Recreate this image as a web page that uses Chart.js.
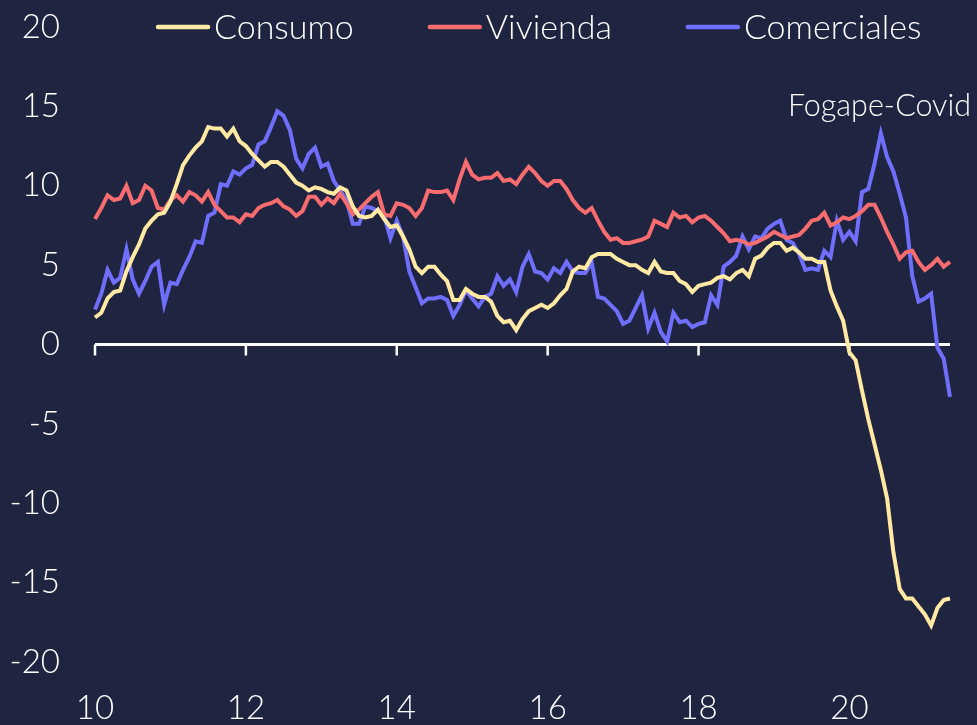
<!DOCTYPE html>
<html>
<head>
<meta charset="utf-8">
<script src="https://cdn.jsdelivr.net/npm/chart.js@4.4.1/dist/chart.umd.min.js"></script>
<style>
  html, body { margin: 0; padding: 0; background: #1f2440; }
  #wrap { width: 977px; height: 725px; }
</style>
</head>
<body>
<div id="wrap"><canvas id="chart" width="977" height="725"></canvas></div>
<script>
// monthly, Jan 2010 .. May 2021
const startYear = 2010;
const nMonths = 137;
const months = [];
for (let i = 0; i < nMonths; i++) {
  const y = startYear + Math.floor(i / 12);
  const m = (i % 12) + 1;
  months.push(y + '-' + String(m).padStart(2, '0'));
}
const tickYears = ['2010', '2012', '2014', '2016', '2018', '2020'];

const seriesNames = ['Consumo', 'Vivienda', 'Comerciales'];
const seriesColors = ['#ffe9a3', '#f76c6f', '#6f6ffb'];

const consumo = [
  1.7, 2.0, 2.9, 3.3, 3.4, 4.6, 5.5, 6.3, 7.3, 7.8, 8.2, 8.3,
  9.0, 10.1, 11.3, 11.9, 12.4, 12.8, 13.7, 13.6, 13.6, 13.1, 13.6, 12.8,
  12.5, 12.0, 11.6, 11.2, 11.5, 11.5, 11.2, 10.7, 10.2, 10.0, 9.7, 9.9,
  9.8, 9.6, 9.5, 9.9, 9.7, 8.7, 8.1, 8.0, 8.1, 8.5, 7.9, 7.4,
  7.5, 6.8, 6.0, 4.9, 4.5, 4.9, 4.9, 4.4, 4.0, 2.8, 2.8, 3.5,
  3.2, 3.0, 3.0, 2.7, 1.8, 1.4, 1.5, 0.9, 1.6, 2.1, 2.3, 2.5,
  2.3, 2.6, 3.1, 3.5, 4.6, 4.9, 4.8, 5.5, 5.7, 5.7, 5.7, 5.4,
  5.2, 5.0, 5.0, 4.7, 4.5, 5.2, 4.6, 4.5, 4.5, 4.0, 3.8, 3.3,
  3.7, 3.8, 3.9, 4.2, 4.3, 4.1, 4.5, 4.7, 4.3, 5.4, 5.6, 6.1,
  6.4, 6.4, 5.9, 6.1, 5.8, 5.4, 5.4, 5.2, 5.2, 3.4, 2.4, 1.5,
  -0.5, -1.0, -2.9, -4.7, -6.3, -7.9, -9.7, -13.1, -15.4, -16.0, -16.0, -16.5,
  -17.0, -17.7, -16.6, -16.1, -16.0
];
const vivienda = [
  7.9, 8.6, 9.4, 9.1, 9.2, 10.0, 8.9, 9.1, 10.0, 9.7, 8.6, 8.5,
  9.1, 9.4, 9.0, 9.6, 9.4, 9.0, 9.6, 8.8, 8.4, 8.0, 8.0, 7.7,
  8.2, 8.1, 8.6, 8.8, 8.9, 9.1, 8.7, 8.5, 8.1, 8.4, 9.3, 9.3,
  8.8, 9.2, 8.9, 9.5, 8.9, 8.2, 8.5, 8.9, 9.3, 9.6, 8.2, 8.1,
  8.9, 8.8, 8.6, 8.1, 8.6, 9.7, 9.6, 9.6, 9.7, 9.1, 10.4, 11.5,
  10.7, 10.4, 10.5, 10.5, 10.8, 10.3, 10.4, 10.1, 10.7, 11.2, 10.8, 10.3,
  10.0, 10.3, 10.3, 9.8, 9.1, 8.6, 8.3, 8.6, 7.8, 7.1, 6.6, 6.7,
  6.4, 6.4, 6.5, 6.6, 6.8, 7.8, 7.6, 7.4, 8.3, 8.0, 8.1, 7.7,
  8.0, 8.1, 7.8, 7.4, 7.0, 6.5, 6.6, 6.5, 6.3, 6.4, 6.6, 6.8,
  7.1, 6.9, 6.7, 6.8, 6.9, 7.3, 7.8, 7.9, 8.3, 7.5, 7.7, 8.0,
  7.9, 8.1, 8.4, 8.8, 8.8, 8.0, 7.1, 6.3, 5.4, 5.8, 5.9, 5.2,
  4.7, 5.0, 5.4, 4.9, 5.2
];
const comerciales = [
  2.2, 3.2, 4.7, 3.9, 4.2, 6.0, 4.1, 3.2, 4.0, 4.9, 5.2, 2.5,
  3.9, 3.8, 4.7, 5.5, 6.5, 6.4, 8.1, 8.3, 10.1, 10.0, 10.9, 10.7,
  11.1, 11.3, 12.6, 12.8, 13.7, 14.7, 14.4, 13.5, 11.7, 11.1, 12.0, 12.4,
  11.2, 11.4, 10.3, 9.7, 9.1, 7.6, 7.6, 8.7, 8.6, 8.4, 8.1, 6.7,
  7.8, 6.8, 4.6, 3.6, 2.6, 2.9, 2.9, 3.0, 2.8, 1.8, 2.5, 3.4,
  2.9, 2.4, 3.0, 3.2, 4.3, 3.7, 4.1, 3.3, 4.9, 5.7, 4.6, 4.5,
  4.1, 4.8, 4.5, 5.2, 4.6, 4.5, 4.5, 5.2, 3.0, 2.9, 2.5, 2.1,
  1.3, 1.5, 2.3, 3.1, 1.0, 2.0, 0.8, 0.2, 2.0, 1.4, 1.5, 1.1,
  1.3, 1.4, 3.1, 2.5, 4.9, 5.2, 5.6, 6.8, 6.0, 6.8, 6.7, 7.3,
  7.6, 7.8, 6.6, 6.4, 5.7, 4.7, 4.8, 4.7, 5.9, 5.5, 7.8, 6.6,
  7.1, 6.5, 9.6, 9.8, 11.4, 13.3, 11.8, 10.9, 9.5, 8.0, 4.3, 2.7,
  2.9, 3.2, -0.2, -0.9, -3.3
];

const noteText = 'Fogape-Covid';
const fontFamily = 'Lato, "Open Sans", sans-serif';

const zeroLine = {
  id: 'zeroLine',
  beforeDatasetsDraw(c) {
    const { ctx, chartArea: { left, right }, scales: { x, y } } = c;
    const y0 = y.getPixelForValue(0);
    ctx.save();
    ctx.strokeStyle = '#ffffff';
    ctx.lineWidth = 3;
    ctx.beginPath();
    ctx.moveTo(left, y0);
    ctx.lineTo(right, y0);
    ctx.stroke();
    ctx.lineWidth = 2.5;
    months.forEach((m, i) => {
      if (m.endsWith('-01') && tickYears.includes(m.slice(0, 4))) {
        const px = x.getPixelForValue(i);
        ctx.beginPath();
        ctx.moveTo(px, y0);
        ctx.lineTo(px, y0 + 11);
        ctx.stroke();
      }
    });
    ctx.restore();
  }
};

const topLegend = {
  id: 'topLegend',
  afterDraw(c) {
    const { ctx } = c;
    const yMid = c.scales.y.getPixelForValue(20);
    ctx.save();
    ctx.font = '300 34px ' + fontFamily;
    ctx.textBaseline = 'middle';
    ctx.textAlign = 'left';
    let xPos = 156;
    c.data.datasets.forEach(ds => {
      ctx.strokeStyle = ds.borderColor;
      ctx.lineWidth = 4.5;
      ctx.lineCap = 'round';
      ctx.beginPath();
      ctx.moveTo(xPos + 2, yMid);
      ctx.lineTo(xPos + 52, yMid);
      ctx.stroke();
      ctx.fillStyle = '#ffffff';
      ctx.fillText(ds.label, xPos + 58, yMid + 1);
      xPos += 58 + ctx.measureText(ds.label).width + 74;
    });
    // note near the Fogape peak
    ctx.font = '300 30.5px ' + fontFamily;
    ctx.textAlign = 'right';
    ctx.fillText(noteText, 971, c.scales.y.getPixelForValue(15));
    ctx.restore();
  }
};

const datasets = [consumo, vivienda, comerciales].map((vals, k) => ({
  label: seriesNames[k],
  data: vals,
  borderColor: seriesColors[k],
  backgroundColor: seriesColors[k],
  borderWidth: 4,
  pointRadius: 0,
  tension: 0,
  fill: false
}));

new Chart(document.getElementById('chart'), {
  type: 'line',
  data: { labels: months, datasets },
  options: {
    responsive: false,
    animation: false,
    layout: { padding: { top: 27, right: 27, left: 0, bottom: 0 } },
    plugins: {
      legend: { display: false },
      tooltip: { enabled: false }
    },
    scales: {
      x: {
        offset: false,
        grid: { display: false, drawTicks: false },
        border: { display: false },
        afterFit(s) { s.height = 63; s.paddingLeft = 0; s.paddingRight = 0; },
        ticks: {
          autoSkip: false,
          maxRotation: 0,
          padding: 27,
          color: '#ffffff',
          font: { family: fontFamily, size: 33, weight: '300' },
          callback(v, i) {
            const m = months[i];
            if (m.endsWith('-01') && tickYears.includes(m.slice(0, 4))) return m.slice(2, 4);
            return '';
          }
        }
      },
      y: {
        min: -20,
        max: 20,
        grid: { display: false, drawTicks: false },
        border: { display: false },
        afterFit(s) { s.width = 95; s.paddingTop = 0; s.paddingBottom = 0; },
        ticks: {
          stepSize: 5,
          padding: 35,
          color: '#ffffff',
          font: { family: fontFamily, size: 33, weight: '300' }
        }
      }
    }
  },
  plugins: [zeroLine, topLegend]
});
</script>
</body>
</html>
